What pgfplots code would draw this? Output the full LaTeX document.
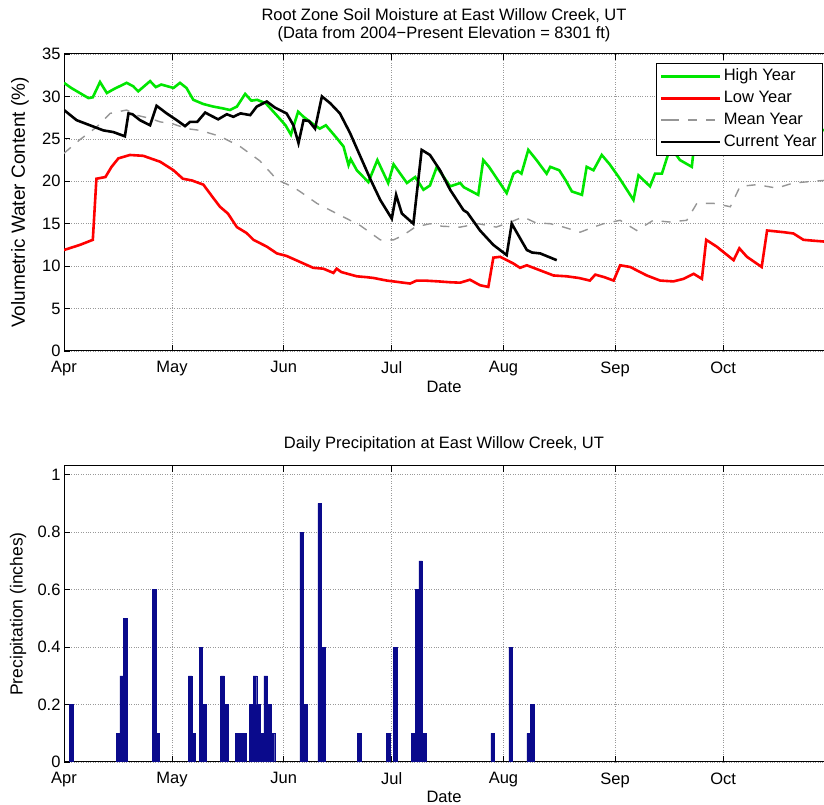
\documentclass[border=0pt]{standalone}
\usepackage{pgfplots}
\pgfplotsset{compat=1.18}
\usepackage{fontspec}
\setmainfont{Liberation Sans}
\definecolor{hiGreen}{RGB}{0,230,0}
\definecolor{loRed}{RGB}{255,0,0}
\definecolor{barBlue}{RGB}{10,10,140}
\definecolor{meanGray}{RGB}{150,150,150}
\newcommand{\fs}{\fontsize{16.5}{17.5}\selectfont}
\pgfplotsset{
  mlaxis/.style={
    scale only axis, width=760pt,
    xmin=0, xmax=211,
    xtick={0,30,61,91,122,153,183},
    xticklabels={Apr,May,Jun,Jul,Aug,Sep,Oct},
    axis x line=box, axis y line*=left,
    tick align=inside,
    major tick length=6pt,
    grid=major,
    grid style={dotted, black!40, line width=0.7pt},
    axis line style={line width=1pt, black},
    tick style={line width=0.8pt, black},
    ticklabel style={font=\fs},
    xticklabel style={yshift=-7pt},
    /pgf/number format/assume math mode=true,
    xlabel={Date},
    every axis x label/.style={at={(rel axis cs:0.5,0)}, anchor=center, font=\fs},
    every axis y label/.style={at={(rel axis cs:0,0.5)}, rotate=90, anchor=center, font=\fs},
    every axis title/.style={at={(rel axis cs:0.5,1)}, anchor=center, font=\fs, align=center},
  }
}
\begin{document}
\begin{tikzpicture}
\useasboundingbox (0,0) rectangle (824pt,805pt);
% ---------------- top: soil moisture ----------------
\begin{axis}[mlaxis, at={(64pt,454pt)}, anchor=south west, height=297pt,
  ymin=0, ymax=35, ytick={0,5,...,35},
  title={Root Zone Soil Moisture at East Willow Creek, UT\\(Data from 2004−Present Elevation = 8301 ft)},
  title style={yshift=29pt},
  ylabel={Volumetric Water Content (\%)},
  ylabel style={yshift=44pt, font=\fontsize{19}{20}\selectfont},
  xlabel style={yshift=-35.5pt},
  legend image code/.code={\path (-9pt,0pt) -- (0pt,0pt); \draw[#1] (0pt,0pt) -- (50pt,0pt);},
  legend cell align=left,
  legend style={at={(rel axis cs:1,1)}, anchor=north east, xshift=-1.3pt, yshift=-8.7pt,
    font=\fs, draw=black, line width=1pt, fill=white, inner sep=3.5pt,
    nodes={inner sep=2pt, text height=12pt, text depth=3.5pt}, row sep=2.3pt},
]
\addplot[hiGreen, line width=2.6pt] coordinates {
(0,31.6) (2,31.0) (4.4,30.4) (6.8,29.8) (8,29.9) (10,31.7) (11.9,30.4) (14,30.9)
(17.4,31.6) (19.2,31.2) (20.6,30.6) (23.9,31.8) (25.5,31.1) (27,31.4) (30.4,31.0)
(32.2,31.6) (34,31.0) (35.9,29.6) (38.7,29.1) (41.5,28.8) (44,28.6) (46.1,28.4)
(48,28.8) (50.3,30.3) (52,29.5) (53.6,29.6) (56,29.2) (59,27.8) (61.5,26.6) (63,25.5)
(65,28.2) (66.5,27.6) (69,26.8) (71,26.2) (72.7,26.6) (75.7,25.1) (77.6,24.1) (79,21.9)
(79.6,22.6) (81.3,21.3) (84.5,19.9) (87,22.5) (90,19.8) (91.5,22.0) (95.2,19.8)
(97.5,20.5) (99.8,19.0) (101.6,19.5) (103.5,21.7) (107.2,19.4) (110,19.8) (111,19.3)
(115,18.4) (116.4,22.5) (118,21.7) (122.9,18.6) (124.8,20.9) (126,21.2) (127,20.9)
(128.9,23.7) (131,22.6) (134,20.9) (135,21.7) (137.5,21.3) (139.3,20.1) (141,18.8)
(143.8,18.4) (145.1,21.7) (147,21.3) (149.3,23.1) (151.5,22.0) (154,20.5) (158.1,17.8)
(159.5,20.7) (162.7,19.4) (164.1,20.9) (166,20.9) (167.8,23.3) (170,23.1) (171,22.5)
(174.3,21.7) (175,24.5) (177,25.5) (180,26.0) (183,24.5) (186,23.4) (189,25.0)
(195,27.0) (200,26.0) (205,27.0) (211,26.0)
};
\addlegendentry{High Year}
\addplot[loRed, line width=2.6pt] coordinates {
(0,11.9) (4.4,12.5) (8,13.1) (9,20.3) (11.5,20.5) (13.2,21.7) (15.1,22.7) (18.3,23.1)
(22,23.0) (26.7,22.3) (30.4,21.3) (33,20.3) (35.5,20.1) (38.7,19.6) (41.5,18.0)
(43.3,17.0) (45.5,16.2) (48,14.6) (50.7,13.9) (52.6,13.1) (56.3,12.3) (59.1,11.5)
(61.8,11.2) (65.5,10.5) (69.2,9.8) (72,9.7) (74.8,9.2) (75.7,9.7) (77,9.3) (81.3,8.8)
(84,8.7) (86,8.6) (89.6,8.3) (93.3,8.1) (96.1,7.95) (97.9,8.3) (100,8.3) (104,8.2)
(107.2,8.1) (110,8.05) (112.7,8.4) (115.5,7.75) (117.8,7.55) (119.2,11.0) (121.1,11.1)
(124.8,10.3) (126.6,9.8) (128.5,10.1) (132.2,9.5) (135.9,8.9) (139.6,8.8) (143,8.6)
(146,8.3) (147.5,9.0) (150,8.7) (152.6,8.3) (154.4,10.1) (157.2,9.9) (161.8,8.9)
(165.5,8.3) (169.2,8.2) (172,8.5) (174.8,9.1) (177.1,8.5) (178.3,13.1) (181.2,12.3)
(185.9,10.7) (187.5,12.1) (189.6,11.1) (193.7,9.9) (195.2,14.2) (199.8,14.0)
(202.5,13.85) (205.3,13.1) (208,13.0) (211,12.9)
};
\addlegendentry{Low Year}
\addplot[meanGray, line width=1.4pt, dash pattern=on 9pt off 9pt] coordinates {
(0,23.3) (4.4,24.9) (9.1,26.4) (12.8,28.0) (17.4,28.4) (20,27.8) (24,27.4) (26.7,27.0)
(30,26.8) (34.1,26.2) (37.8,26.0) (43.3,25.3) (48.9,24.1) (54.4,22.4) (59.1,20.2)
(63.7,19.3) (65.5,18.8) (70.2,17.4) (75.7,16.2) (82.2,14.8) (87.8,13.1) (91.5,13.1)
(94,13.6) (97.5,14.6) (101.6,15.0) (105,14.7) (110,14.6) (115,15.0) (120,14.6)
(124,15.2) (127.5,15.8) (131,15.1) (135,15.0) (138.7,14.6) (143.3,14.0) (147,14.6)
(149.8,15.0) (154.4,15.4) (159,14.2) (163.6,15.4) (168,15.2) (172.9,15.4) (175.7,17.4)
(180.3,17.4) (185,17.0) (187.7,19.4) (192.3,19.6) (197.9,19.2) (202.5,19.8)
(208.1,20.0) (211,20.1)
};
\addlegendentry{Mean Year}
\addplot[black, line width=2.6pt] coordinates {
(0,28.4) (3.5,27.2) (7.2,26.6) (10.9,26.0) (13.7,25.8) (16.9,25.3) (17.9,28.0) (19,27.9)
(21.1,27.2) (23.9,26.6) (25.7,28.9) (28.5,28.0) (31.3,27.2) (33.6,26.5) (35,27.0)
(37,27.0) (39.2,28.1) (40.5,27.8) (42.8,27.3) (45.2,27.9) (47,27.6) (49,28.0)
(51.7,27.8) (53.5,28.8) (56.3,29.4) (58.5,28.7) (61.8,28.0) (63.7,26.6) (65.1,24.5)
(66.5,27.2) (68,27.1) (69.7,26.2) (71.6,30.0) (73.9,29.2) (76.6,28.0) (79.4,25.7)
(82.2,23.0) (85,20.3) (87.8,17.8) (91,15.6) (92.2,18.4) (93.8,16.2) (97,15.0)
(99.3,23.7) (101.6,23.1) (104.4,21.3) (107.2,19.0) (110.9,16.6) (112,16.3)
(115.5,14.2) (119.2,12.5) (122.9,11.3) (124.3,15.0) (128.5,11.9) (130,11.6)
(132.2,11.5) (136.8,10.7)
};
\addlegendentry{Current Year}
\end{axis}
% ---------------- bottom: precipitation ----------------
\begin{axis}[mlaxis, at={(64pt,43pt)}, anchor=south west, height=296pt,
  ymin=0, ymax=1.03, ytick={0,0.2,0.4,0.6,0.8,1},
  yticklabels={0,0.2,0.4,0.6,0.8,1},
  title={Daily Precipitation at East Willow Creek, UT},
  title style={yshift=21.5pt},
  ylabel={Precipitation (inches)},
  ylabel style={yshift=46pt, font=\fontsize{17.5}{18.5}\selectfont},
  xlabel style={yshift=-35pt},
]
\addplot[ybar, bar width=1, fill=barBlue, draw=barBlue, line width=0.4pt] coordinates {
(2,0.2) (15,0.1) (16,0.3) (17,0.5) (25,0.6) (26,0.1) (35,0.3) (36,0.1) (38,0.4) (39,0.2)
(44,0.3) (45,0.2) (48,0.1) (49,0.1) (50,0.1) (52,0.2) (53,0.3) (54,0.2) (55,0.1)
(56,0.3) (57,0.2) (58,0.1) (66,0.8) (67,0.2) (71,0.9) (72,0.4) (82,0.1) (90,0.1)
(92,0.4) (97,0.1) (98,0.6) (99,0.7) (100,0.1) (119,0.1) (124,0.4) (129,0.1) (130,0.2)
};
\end{axis}
\end{tikzpicture}
\end{document}
